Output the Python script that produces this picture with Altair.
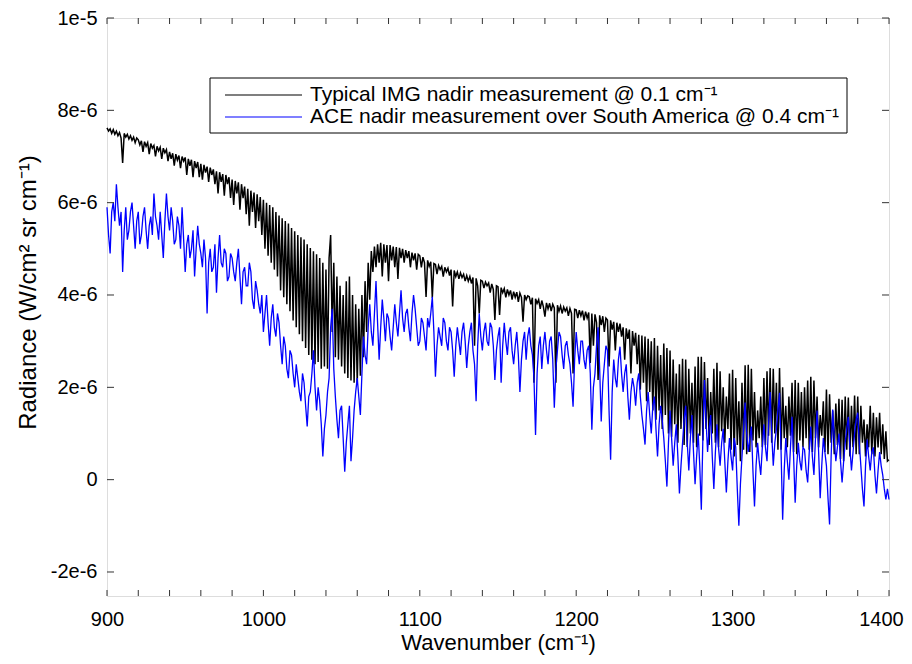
import altair as alt
import pandas as pd

# ---------------- data (radiance in units of 1e-6 W/cm2 sr cm-1) ----------------
IMG_WAVENUMBER = list(range(900, 1401, 1))
IMG_RADIANCE = [
    7.62, 7.55, 7.60, 7.50, 7.58, 7.48, 7.55, 7.45, 7.52, 7.40,
    6.86, 7.50, 7.42, 7.48, 7.38, 7.45, 7.35, 7.42, 7.30, 7.40,
    7.36, 7.25, 7.34, 7.10, 7.32, 7.22, 7.30, 7.05, 7.28, 7.18,
    7.24, 7.00, 7.22, 7.12, 7.20, 6.95, 7.18, 7.08, 7.15, 6.90,
    7.10, 6.95, 7.07, 6.80, 7.05, 6.92, 7.02, 6.75, 7.00, 6.90,
    6.98, 6.60, 6.95, 6.80, 6.93, 6.55, 6.90, 6.75, 6.88, 6.55,
    6.84, 6.50, 6.82, 6.65, 6.78, 6.45, 6.76, 6.60, 6.72, 6.40,
    6.68, 6.20, 6.66, 6.45, 6.62, 6.15, 6.60, 6.40, 6.55, 6.10,
    6.50, 5.95, 6.47, 6.20, 6.44, 5.85, 6.40, 6.10, 6.35, 5.75,
    6.30, 5.50, 6.26, 5.80, 6.22, 5.45, 6.18, 5.60, 6.12, 5.30,
    6.06, 5.00, 6.00, 4.85, 5.95, 4.70, 5.90, 4.55, 5.80, 4.40,
    5.72, 4.10, 5.66, 3.95, 5.60, 3.80, 5.55, 3.65, 5.45, 3.45,
    5.38, 3.30, 5.30, 3.15, 5.25, 3.00, 5.20, 2.85, 5.10, 2.70,
    5.02, 2.60, 4.95, 2.50, 4.88, 2.55, 4.80, 2.40, 4.70, 2.45,
    4.55, 2.40, 4.80, 5.30, 3.20, 4.70, 2.65, 4.40, 2.60, 4.20,
    2.45, 4.00, 2.30, 4.30, 2.20, 4.40, 2.15, 4.00, 2.10, 3.80,
    2.10, 3.70, 2.25, 4.00, 2.65, 4.30, 3.20, 4.70, 3.90, 4.95,
    4.50, 5.05, 4.60, 5.10, 4.70, 5.13, 4.40, 5.10, 4.70, 5.08,
    4.30, 5.08, 4.75, 5.05, 4.60, 5.04, 4.35, 5.02, 4.80, 5.00,
    4.70, 4.97, 4.80, 4.95, 4.60, 4.92, 4.75, 4.90, 4.55, 4.88,
    4.85, 4.60, 4.82, 4.70, 3.96, 4.75, 4.62, 4.72, 3.94, 4.68,
    4.66, 4.45, 4.64, 4.55, 4.62, 4.40, 4.60, 4.50, 4.58, 4.42,
    4.55, 3.75, 4.53, 4.40, 4.50, 4.35, 4.48, 4.38, 4.45, 4.30,
    4.42, 4.30, 4.40, 4.25, 4.38, 2.90, 4.36, 4.20, 3.60, 4.32,
    4.30, 4.15, 4.28, 4.20, 4.26, 4.05, 4.24, 4.12, 3.46, 4.20,
    4.18, 3.57, 4.16, 4.05, 4.14, 3.95, 4.12, 4.00, 4.10, 3.90,
    4.07, 3.95, 4.06, 3.85, 4.04, 3.95, 3.42, 4.00, 3.90, 3.98,
    3.96, 3.80, 3.94, 2.10, 3.92, 3.82, 3.90, 3.70, 3.88, 3.75,
    3.53, 3.83, 3.70, 3.82, 3.65, 3.80, 3.72, 2.10, 3.78, 3.65,
    3.76, 3.60, 3.74, 3.65, 3.72, 3.55, 3.71, 3.60, 2.30, 3.69,
    3.68, 3.50, 3.67, 3.55, 3.66, 3.45, 3.64, 3.50, 3.62, 2.53,
    3.60, 2.90, 3.58, 3.40, 2.16, 3.56, 3.35, 3.54, 3.20, 3.50,
    3.46, 2.45, 3.45, 3.25, 3.42, 2.80, 3.40, 3.20, 3.38, 3.10,
    3.30, 2.60, 3.28, 3.05, 3.25, 2.30, 3.22, 2.90, 3.18, 2.50,
    3.14, 1.95, 3.12, 2.10, 3.10, 1.70, 3.05, 1.90, 3.00, 1.50,
    3.07, 1.30, 2.90, 1.50, 2.70, 1.10, 2.95, 1.40, 2.85, 1.00,
    2.80, 0.93, 2.60, 1.20, 2.30, 0.80, 2.50, 1.10, 2.62, 0.75,
    2.60, 0.71, 2.40, 1.00, 2.10, 0.80, 2.45, 0.70, 2.66, 0.95,
    2.66, 0.85, 2.55, 1.10, 2.20, 0.75, 1.90, 1.00, 2.40, 0.80,
    2.53, 0.70, 2.35, 1.05, 2.00, 0.80, 1.80, 1.10, 2.30, 0.65,
    2.38, 0.50, 2.20, 0.75, 1.70, 0.40, 2.10, 0.65, 2.48, 0.55,
    2.49, 0.60, 2.40, 0.85, 1.90, 0.70, 1.50, 0.90, 1.80, 0.70,
    2.20, 0.75, 2.35, 0.95, 2.42, 0.80, 2.40, 1.00, 2.10, 0.65,
    2.42, 0.65, 2.00, 0.90, 1.60, 0.70, 1.80, 0.95, 2.10, 0.60,
    2.16, 0.55, 2.10, 0.85, 1.90, 0.70, 2.00, 0.90, 2.15, 0.65,
    2.23, 0.60, 2.15, 0.90, 1.80, 0.70, 1.40, 0.95, 1.70, 0.60,
    1.95, 0.55, 1.85, 0.80, 1.50, 0.55, 1.65, 0.75, 1.75, 0.45,
    1.73, 0.40, 1.80, 0.65, 1.78, 0.50, 1.60, 0.70, 1.82, 0.55,
    1.80, 0.55, 1.60, 0.80, 1.30, 0.50, 1.20, 0.70, 1.60, 0.55,
    1.45, 0.50, 1.35, 0.70, 1.45, 0.55, 1.20, 0.45, 1.05, 0.40,
    0.43,
]

ACE_WAVENUMBER = list(range(900, 1401, 1))
ACE_RADIANCE = [
    5.9, 5.3, 4.9, 5.8, 6.0, 5.6, 6.4, 5.9, 5.5, 5.8,
    4.5, 5.4, 5.9, 5.2, 5.4, 5.8, 6.0, 5.5, 5.0, 5.6,
    5.8, 5.1, 5.3, 5.7, 5.9, 5.4, 5.0, 5.5, 5.7, 5.3,
    6.2, 5.7, 5.5, 5.2, 5.8, 5.3, 4.8, 5.6, 6.2, 5.7,
    5.4, 5.9, 5.6, 5.1, 5.2, 5.7, 5.5, 5.0, 5.9, 5.2,
    4.5, 5.1, 5.3, 4.8, 5.0, 5.4, 4.4, 5.0, 5.5, 5.1,
    4.9, 4.6, 5.2, 4.8, 3.6, 4.7, 5.0, 4.5, 4.6, 5.1,
    4.05, 4.8, 5.3, 4.7, 4.6, 5.0, 4.9, 4.3, 4.4, 4.9,
    4.8, 4.5, 4.3, 4.7, 5.0, 4.4, 3.8, 4.5, 4.6, 4.2,
    4.2, 4.7, 4.5, 3.9, 3.7, 4.3, 4.1, 3.8, 3.6, 4.0,
    3.2, 3.6, 4.0, 3.4, 2.9, 3.5, 3.8, 3.3, 3.1, 3.6,
    3.4, 2.9, 2.5, 3.1, 2.9, 2.4, 2.2, 2.8, 2.7, 2.3,
    2.0, 2.5, 2.2, 1.9, 1.7, 2.3, 2.1, 1.6, 1.15, 1.8,
    1.9, 2.3, 2.8, 2.0, 1.5, 2.0, 1.7, 1.2, 0.5, 1.1,
    1.4, 1.9, 2.2, 3.3, 3.7, 2.4, 1.8, 1.3, 0.9, 1.5,
    1.6, 0.9, 0.17, 0.8, 1.2, 1.6, 0.4, 0.9, 1.5, 1.9,
    2.2, 1.8, 1.4, 2.3, 3.1, 2.7, 2.5, 3.3, 3.8, 3.2,
    2.9, 3.6, 4.3, 3.4, 2.6, 3.3, 3.9, 3.5, 3.0, 3.6,
    3.5, 3.1, 2.8, 3.3, 3.8, 3.4, 3.1, 3.6, 4.1, 3.5,
    3.2, 3.6, 3.7, 3.3, 3.0, 3.6, 4.0, 3.7, 3.3, 2.9,
    3.0, 3.5, 3.4, 3.1, 2.8, 3.5, 3.3, 3.6, 3.96, 3.2,
    2.23, 2.9, 3.3, 3.1, 2.9, 3.5, 3.4, 3.0, 2.8, 3.3,
    3.2, 2.8, 2.23, 2.9, 3.3, 3.0, 2.7, 3.2, 3.4, 3.0,
    2.42, 2.9, 3.2, 3.4, 2.8, 2.5, 1.7, 2.9, 3.6, 3.1,
    2.8, 3.2, 3.4, 3.0, 2.9, 3.4, 3.3, 2.9, 2.16, 2.8,
    3.1, 3.3, 2.1, 2.9, 3.4, 3.0, 2.7, 3.2, 3.3, 2.8,
    2.5, 2.9, 3.2, 2.7, 1.9, 2.6, 3.0, 3.2, 2.6, 3.1,
    3.3, 2.9, 2.7, 2.2, 0.97, 2.3, 2.9, 3.1, 2.4, 2.9,
    3.2, 2.8, 2.5, 3.0, 3.1, 2.6, 1.56, 2.4, 2.8, 3.2,
    3.1, 2.7, 2.4, 2.9, 3.0, 2.7, 2.5, 2.1, 1.58, 2.6,
    3.2, 2.8, 2.5, 3.0, 3.0, 2.6, 2.4, 2.8, 2.9, 2.3,
    1.08, 2.0, 2.3, 2.9, 3.3, 2.4, 1.26, 2.1, 2.5, 2.9,
    2.8, 1.5, 0.43, 1.9, 2.6, 2.2, 2.0, 2.6, 2.88, 2.3,
    1.9, 2.3, 2.5, 1.8, 1.3, 1.9, 2.2, 2.0, 1.6, 2.1,
    2.3, 1.8, 1.4, 1.1, 0.76, 1.5, 1.9, 1.4, 1.0, 1.6,
    1.8, 1.1, 0.5, 1.2, 1.6, 1.3, 0.9, 0.4, -0.15, 0.8,
    1.5, 0.9, 0.3, 0.8, 1.2, 0.5, -0.3, 0.3, 0.8, 1.3,
    1.6, 0.8, 0.2, 0.9, 1.4, 0.6, -0.1, 0.5, 1.0, 0.3,
    -0.65, 0.9, 2.16, 1.3, 0.6, 1.1, 1.4, 0.5, -0.2, 0.6,
    1.2, 0.7, 0.3, 0.8, 1.1, 0.4, -0.28, 0.4, 0.9, 0.5,
    0.2, 0.9, 0.7, -0.2, -1.0, -0.1, 0.5, 1.1, 1.67, 1.0,
    0.6, 0.9, 1.15, 0.2, -0.58, 0.3, 0.8, 0.4, 0.1, 0.7,
    1.2, 0.7, 0.4, 1.2, 1.9, 1.0, 0.3, 0.8, 1.1, 1.5,
    1.88, 0.6, -0.87, 0.2, 0.9, 0.4, 0.0, 0.7, 1.36, 0.5,
    -0.5, 0.3, 0.8, 0.4, 0.2, 0.7, 0.65, 0.2, -0.06, 0.6,
    1.15, 0.5, 0.1, 0.9, 1.5, 0.6, -0.4, 0.3, 0.9, 0.6,
    0.3, -0.4, -0.97, 0.5, 1.52, 0.9, 0.4, 0.7, 1.0, 0.4,
    -0.06, 0.4, 0.8, 1.1, 1.36, 0.7, 0.2, 0.6, 1.0, 1.3,
    1.45, 0.8, 0.3, -0.2, -0.58, 0.3, 0.87, 0.5, 0.2, 0.6,
    0.7, 0.1, -0.3, 0.2, 0.6, 0.3, 0.1, -0.2, -0.43, -0.2,
    -0.43,
]

X_TICKS = list(range(900, 1401, 20))
X_LABELS = [900, 1000, 1100, 1200, 1300, 1400]
Y_TICKS = [-2, 0, 2, 4, 6, 8, 10]
SERIES_NAMES = ["Typical IMG nadir measurement @ 0.1 cm\u207b\u00b9",
                "ACE nadir measurement over South America @ 0.4 cm\u207b\u00b9"]
COLORS = ["#000000", "#0000ff"]

# ---------------- layout ----------------
W, H = 782, 578
FONT = "Liberation Sans"
FRAME = "#333333"

xscale = alt.Scale(domain=[900, 1400], nice=False, zero=False)
yscale = alt.Scale(domain=[-2.52, 10], nice=False, zero=False)

img_df = pd.DataFrame({"wn": IMG_WAVENUMBER, "rad": IMG_RADIANCE})
ace_df = pd.DataFrame({"wn": ACE_WAVENUMBER, "rad": ACE_RADIANCE})

X_TITLE = "Wavenumber (cm\u207b\u00b9)"
Y_TITLE = "Radiance (W/cm\u00b2 sr cm\u207b\u00b9)"

x_axis = alt.Axis(values=X_LABELS, ticks=False, domain=False, grid=False, format="d",
                  labelFlush=False, labelOverlap=False,
                  labelOffset={"expr": "datum.value == 1400 ? -8 : 0"},
                  labelFontSize=20, labelFont=FONT, labelColor="black", labelPadding=13,
                  titleFont=FONT, titleFontSize=22,
                  titleFontWeight="normal", titleColor="black", titlePadding=3)
y_axis = alt.Axis(values=Y_TICKS, ticks=False, domain=False, grid=False,
                  labelFlush=False, labelOverlap=False,
                  labelExpr="datum.value == 0 ? '0' : (datum.value == 10 ? '1e-5' : datum.value + 'e-6')",
                  labelFontSize=20, labelFont=FONT, labelColor="black", labelPadding=10,
                  titleFont=FONT, titleFontSize=24, titleY=274,
                  titleFontWeight="normal", titleColor="black", titlePadding=10)


def X(field):
    return alt.X(field, scale=xscale, axis=x_axis, title=X_TITLE)


def Y(field):
    return alt.Y(field, scale=yscale, axis=y_axis, title=Y_TITLE)


img_line = alt.Chart(img_df).mark_line(color=COLORS[0], strokeWidth=1.5).encode(
    x=X("wn:Q"), y=Y("rad:Q"))
ace_line = alt.Chart(ace_df).mark_line(color=COLORS[1], strokeWidth=1.3).encode(
    x=X("wn:Q"), y=Y("rad:Q"))

xt = pd.DataFrame({"wn": X_TICKS})
yt = pd.DataFrame({"rad": Y_TICKS})
tick_bottom = alt.Chart(xt).mark_rule(color=FRAME, strokeWidth=1).encode(
    x=X("wn:Q"), y=alt.value(H), y2=alt.value(H - 6))
tick_top = alt.Chart(xt).mark_rule(color=FRAME, strokeWidth=1).encode(
    x=X("wn:Q"), y=alt.value(0), y2=alt.value(6))
tick_left = alt.Chart(yt).mark_rule(color=FRAME, strokeWidth=1).encode(
    y=Y("rad:Q"), x=alt.value(0), x2=alt.value(7))
tick_right = alt.Chart(yt).mark_rule(color=FRAME, strokeWidth=1).encode(
    y=Y("rad:Q"), x=alt.value(W), x2=alt.value(W - 7))

one = pd.DataFrame({"k": [0]})
legend_box = alt.Chart(one).mark_rect(fill="white", stroke="black", strokeWidth=1).encode(
    x=alt.value(103), x2=alt.value(740), y=alt.value(60), y2=alt.value(115))
leg_layers = []
for i, (name, col) in enumerate(zip(SERIES_NAMES, COLORS)):
    yy = 77 + 22 * i
    leg_layers.append(alt.Chart(one).mark_rule(color=col, strokeWidth=1.2).encode(
        x=alt.value(118), x2=alt.value(195), y=alt.value(yy)))
    leg_layers.append(alt.Chart(one).mark_text(
        align="left", baseline="middle", font=FONT, fontSize=21, color="black").encode(
        x=alt.value(203), y=alt.value(yy), text=alt.value(name)))

chart = alt.layer(
    img_line, ace_line, tick_bottom, tick_top, tick_left, tick_right,
    legend_box, *leg_layers
).properties(
    width=W, height=H,
    autosize=alt.AutoSizeParams(type="none"),
    padding={"left": 99, "top": 10, "right": 15, "bottom": 60},
).configure_view(stroke=FRAME, strokeWidth=1.5).configure(background="white")

chart.save("out.html", embed_options={"renderer": "svg", "actions": False})
